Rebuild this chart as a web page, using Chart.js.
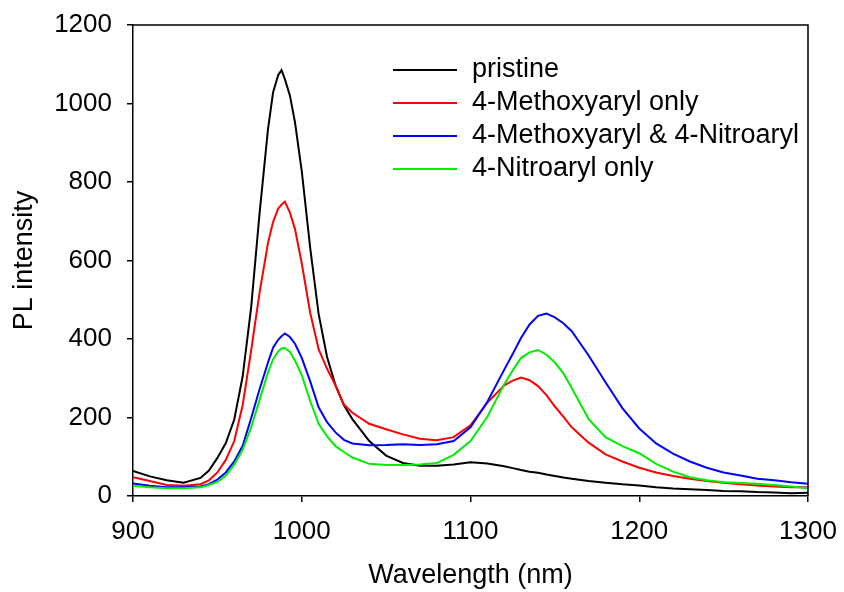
<!DOCTYPE html>
<html>
<head>
<meta charset="utf-8">
<script src="https://cdn.jsdelivr.net/npm/chart.js@4/dist/chart.umd.min.js"></script>
<style>
  html, body { margin: 0; padding: 0; background: #ffffff; }
  #wrap { width: 844px; height: 592px; position: relative; }
</style>
</head>
<body>
<div id="wrap"><canvas id="c" width="844" height="592"></canvas></div>
<script>
// Wavelength (nm)
const wavelength = [900, 910, 920, 930, 940, 945, 950, 955, 960, 965, 970, 975, 980, 983, 986, 988, 990, 993, 996, 1000,
  1005, 1010, 1015, 1020, 1025, 1030, 1040, 1050, 1060, 1070, 1080, 1090, 1100, 1110, 1120, 1125, 1130, 1135, 1140, 1145,
  1150, 1155, 1160, 1170, 1180, 1190, 1200, 1210, 1220, 1230, 1240, 1250, 1260, 1270, 1280, 1290, 1300];

const pristine = [64, 50, 40, 34, 46, 65, 97, 135, 195, 305, 480, 720, 935, 1028, 1072, 1085, 1062, 1020, 952, 828,
  632, 464, 354, 282, 231, 196, 140, 103, 84, 77, 77, 80, 86, 83, 76, 71, 66, 62, 59, 55,
  51, 47, 44, 38, 34, 30, 27, 22, 19, 17, 15, 13, 12, 10, 9, 7, 8];

const methoxy = [48, 38, 28, 26, 30, 40, 60, 92, 140, 232, 370, 518, 645, 698, 732, 742, 750, 722, 680, 593,
  467, 374, 324, 282, 233, 212, 184, 170, 157, 146, 142, 150, 180, 238, 282, 294, 302, 295, 280, 257,
  228, 202, 175, 136, 106, 88, 72, 60, 51, 44, 38, 34, 30, 27, 24, 22, 22];

const methoxyNitro = [32, 26, 22, 22, 24, 30, 42, 60, 88, 128, 198, 272, 340, 378, 398, 407, 414, 405, 388, 352,
  292, 226, 188, 162, 143, 134, 129, 130, 132, 130, 132, 140, 175, 240, 322, 362, 403, 437, 459, 465,
  455, 440, 420, 358, 290, 224, 172, 134, 108, 88, 72, 60, 52, 44, 40, 35, 31];

const nitro = [26, 22, 20, 20, 22, 28, 36, 52, 80, 118, 175, 245, 315, 348, 368, 376, 377, 367, 345, 308,
  242, 184, 152, 127, 112, 98, 82, 79, 79, 80, 84, 105, 140, 202, 285, 320, 352, 366, 372, 360,
  340, 313, 275, 196, 150, 127, 109, 82, 62, 48, 40, 35, 33, 31, 28, 24, 20];

const seriesLabels = ['pristine', '4-Methoxyaryl only', '4-Methoxyaryl & 4-Nitroaryl', '4-Nitroaryl only'];
const seriesColors = ['#000000', '#ff0000', '#0000ff', '#00ee00'];
const seriesValues = [pristine, methoxy, methoxyNitro, nitro];

const xTicks = [900, 1000, 1100, 1200, 1300];
const yTicks = [0, 200, 400, 600, 800, 1000, 1200];

const FONT = "'Liberation Sans', Arial, sans-serif";

const datasets = seriesValues.map((vals, i) => ({
  label: seriesLabels[i],
  data: wavelength.map((w, j) => ({ x: w, y: vals[j] })),
  borderColor: seriesColors[i],
  backgroundColor: seriesColors[i],
  borderWidth: 2,
  pointRadius: 0,
  tension: 0,
  fill: false,
  order: i === 0 ? 4 : 4 - i
}));

const framePlugin = {
  id: 'frame',
  afterDatasetsDraw(chart) {
    const { ctx, chartArea: a } = chart;
    ctx.save();
    ctx.strokeStyle = '#000';
    ctx.lineWidth = 1.5;
    ctx.beginPath();
    ctx.moveTo(a.left, a.top);
    ctx.lineTo(a.right, a.top);
    ctx.lineTo(a.right, a.bottom);
    ctx.stroke();
    ctx.restore();
  }
};

const legendPlugin = {
  id: 'inlegend',
  afterDraw(chart) {
    const { ctx } = chart;
    const rowsY = [70, 103, 136, 169];
    ctx.save();
    ctx.font = "27px " + FONT;
    ctx.textBaseline = 'middle';
    ctx.textAlign = 'left';
    chart.data.datasets.forEach((ds, i) => {
      const y = rowsY[i];
      ctx.strokeStyle = ds.borderColor;
      ctx.lineWidth = 2;
      ctx.beginPath();
      ctx.moveTo(393, y);
      ctx.lineTo(457, y);
      ctx.stroke();
      ctx.fillStyle = '#000';
      ctx.fillText(ds.label, 472, y);
    });
    ctx.restore();
  }
};

new Chart(document.getElementById('c'), {
  type: 'line',
  data: { datasets },
  options: {
    responsive: false,
    animation: false,
    layout: { padding: { left: 0, right: 36, top: 25, bottom: 0 } },
    plugins: {
      legend: { display: false },
      tooltip: { enabled: false }
    },
    scales: {
      x: {
        type: 'linear',
        min: 900,
        max: 1300,
        afterBuildTicks(scale) { scale.ticks = xTicks.map(v => ({ value: v })); },
        afterFit(scale) { scale.height = 96; scale.paddingLeft = 0; scale.paddingRight = 0; },
        ticks: { color: '#000', font: { family: FONT, size: 26 }, padding: 14, maxRotation: 0, autoSkip: false, callback: v => String(v) },
        grid: { drawOnChartArea: false, drawTicks: true, tickLength: 6, color: '#000', lineWidth: 1.5 },
        border: { display: true, color: '#000', width: 1.5 },
        title: { display: true, text: 'Wavelength (nm)', color: '#000', font: { family: FONT, size: 27 }, padding: { top: 0, bottom: 0 } }
      },
      y: {
        type: 'linear',
        min: 0,
        max: 1200,
        afterBuildTicks(scale) { scale.ticks = yTicks.map(v => ({ value: v })); },
        afterFit(scale) { scale.width = 133; scale.paddingTop = 0; scale.paddingBottom = 0; },
        ticks: { color: '#000', font: { family: FONT, size: 26 }, padding: 15, callback: v => String(v) },
        grid: { drawOnChartArea: false, drawTicks: true, tickLength: 6, color: '#000', lineWidth: 1.5 },
        border: { display: true, color: '#000', width: 1.5 },
        title: { display: true, text: 'PL intensity', color: '#000', font: { family: FONT, size: 27 }, padding: { top: 8, bottom: 0 } }
      }
    }
  },
  plugins: [framePlugin, legendPlugin]
});
</script>
</body>
</html>
